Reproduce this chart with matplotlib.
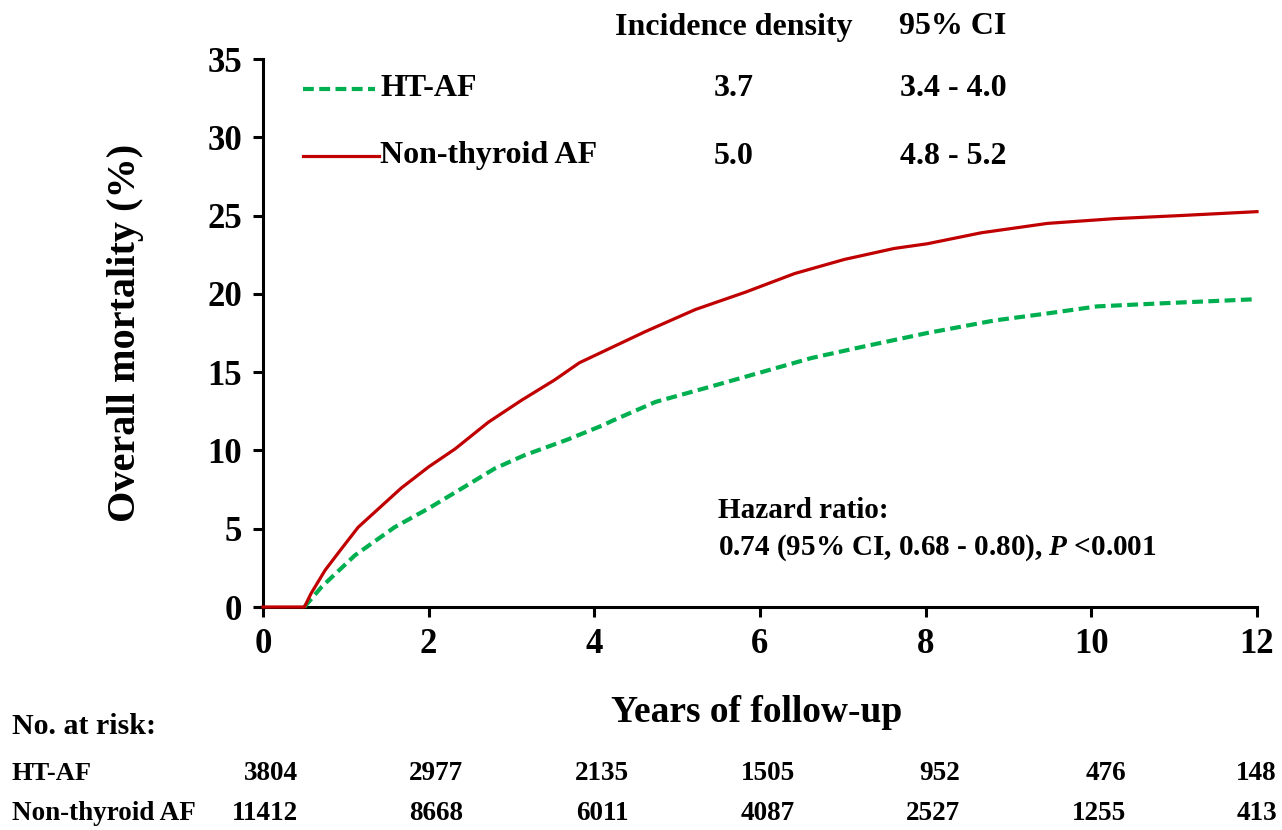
import matplotlib.pyplot as plt
import matplotlib.transforms as mtransforms
import numpy as np

plt.rcParams['font.family'] = ['Liberation Serif', 'DejaVu Serif']
plt.rcParams['font.weight'] = 'bold'
plt.rcParams['mathtext.fontset'] = 'custom'
plt.rcParams['mathtext.bfit'] = 'Liberation Serif:italic:bold'

# curves (years, cumulative mortality %)
years_ht = [0, 0.5, 0.71, 1.11, 1.59, 2.0, 2.44, 2.8, 3.16, 3.68, 4.1, 4.22, 4.74,
            5.42, 6.02, 6.62, 7.22, 8.02, 8.83, 9.47, 10.07, 10.87, 11.95, 12.0]
mort_ht = [0, 0, 1.3, 3.3, 5.1, 6.3, 7.7, 8.85, 9.7, 10.7, 11.6, 11.9, 13.1,
           14.1, 15.0, 15.9, 16.6, 17.5, 18.3, 18.75, 19.2, 19.4, 19.65, 19.7]
years_non = [0, 0.5, 0.58, 0.75, 0.93, 1.15, 1.67, 2.0, 2.32, 2.72, 3.12, 3.52, 3.82,
             4.22, 4.62, 5.22, 5.82, 6.42, 7.02, 7.62, 8.02, 8.67, 9.47, 10.27,
             11.07, 12.0]
mort_non = [0, 0, 0.86, 2.35, 3.6, 5.1, 7.6, 8.95, 10.1, 11.8, 13.2, 14.5, 15.6,
            16.6, 17.6, 19.0, 20.1, 21.3, 22.2, 22.9, 23.2, 23.9, 24.5, 24.8,
            25.0, 25.25]

risk_years = [0, 2, 4, 6, 8, 10, 12]
risk_ht = [3804, 2977, 2135, 1505, 952, 476, 148]
risk_non = [11412, 8668, 6011, 4087, 2527, 1255, 413]

green = '#00B050'
red = '#C00000'
dash = (0, (2.6, 1.3))

W, H = 1282, 830
fig = plt.figure(figsize=(W / 100, H / 100), dpi=100)
ax = fig.add_axes([254.7 / W, 1 - 607 / H, 1002.3 / W, 548 / H])

# the flat part of HT-AF is hidden under the red line in the original
ax.plot(years_ht[1:], mort_ht[1:], color=green, linewidth=3.0, linestyle=dash,
        zorder=3, clip_on=False)
ax.plot(years_non, mort_non, color=red, linewidth=2.3, zorder=4, clip_on=False)

ax.set_xlim(-0.1, 12)
ax.set_ylim(0, 35)
ax.set_xticks(range(0, 13, 2))
ax.set_yticks(range(0, 36, 5))
ax.spines['left'].set_position(('data', 0))
ax.spines['top'].set_visible(False)
ax.spines['right'].set_visible(False)
for s in ['left', 'bottom']:
    ax.spines[s].set_linewidth(2.2)
ax.tick_params(width=2.2, length=7, labelsize=25, pad=8)
for lab in ax.get_xticklabels() + ax.get_yticklabels():
    lab.set_fontweight('bold')

ax.set_ylabel('Overall mortality (%)', fontsize=29, fontweight='bold')
ax.yaxis.set_label_coords(-0.11, 0.5)

def ftext(x, y, s, **kw):
    fig.text(x / W, 1 - y / H, s, fontweight='bold', **kw)

# header and legend
ftext(734, 27, 'Incidence density', fontsize=23, ha='center', va='center')
ftext(953, 27, '95% CI', fontsize=23, ha='center', va='center')
fig.lines.append(plt.Line2D([303 / W, 375 / W], [1 - 89 / H] * 2, color=green,
                            linewidth=3.0, linestyle=dash,
                            transform=fig.transFigure))
fig.lines.append(plt.Line2D([303 / W, 379 / W], [1 - 156 / H] * 2, color=red,
                            linewidth=2.3, transform=fig.transFigure))
ftext(380, 89, 'HT-AF', fontsize=23, ha='left', va='center')
ftext(380, 156, 'Non-thyroid AF', fontsize=23, ha='left', va='center')
ftext(734, 89, '3.7', fontsize=23, ha='center', va='center')
ftext(734, 156, '5.0', fontsize=23, ha='center', va='center')
ftext(953, 89, '3.4 - 4.0', fontsize=23, ha='center', va='center')
ftext(953, 156, '4.8 - 5.2', fontsize=23, ha='center', va='center')

# hazard ratio
ftext(718, 510, 'Hazard ratio:', fontsize=21, ha='left', va='center')
ftext(718, 548, '0.74 (95% CI, 0.68 - 0.80), $\\mathbfit{P}$ <0.001', fontsize=21,
      ha='left', va='center')

ftext(757, 712, 'Years of follow-up', fontsize=27, ha='center', va='center')

# number at risk table
ftext(12, 726, 'No. at risk:', fontsize=21.5, ha='left', va='center')
ftext(12, 773, 'HT-AF', fontsize=19, ha='left', va='center')
ftext(12, 813, 'Non-thyroid AF', fontsize=19.5, ha='left', va='center')
trans = mtransforms.blended_transform_factory(ax.transData, fig.transFigure)
for t, a, b in zip(risk_years, risk_ht, risk_non):
    xr = min(t + 0.42, 12.24)
    ax.text(xr, 1 - 773 / H, str(a), transform=trans, fontsize=19.5, fontweight='bold',
            ha='right', va='center', clip_on=False)
    ax.text(xr, 1 - 813 / H, str(b), transform=trans, fontsize=19.5, fontweight='bold',
            ha='right', va='center', clip_on=False)

plt.savefig('out.png', dpi=100)
